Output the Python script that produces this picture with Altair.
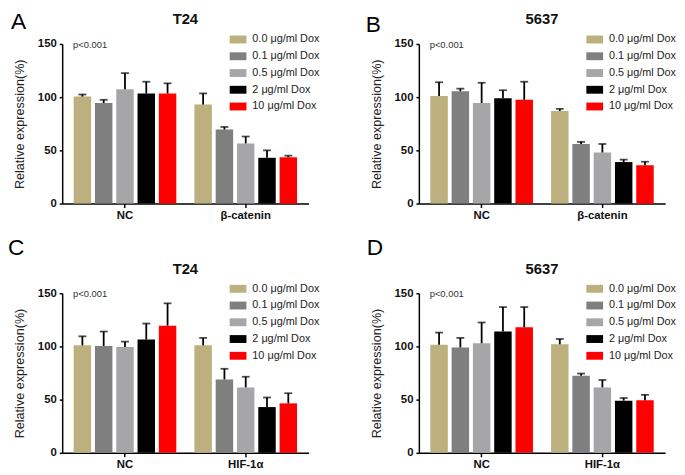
import altair as alt
import pandas as pd

groups_ab = ["NC", "β-catenin"]
groups_cd = ["NC", "HIF-1α"]
doses = ["0.0 μg/ml Dox", "0.1 μg/ml Dox", "0.5 μg/ml Dox", "2 μg/ml Dox", "10 μg/ml Dox"]
colors = ["#BBB07E", "#7F7F7F", "#A6A6A8", "#000000", "#FF0000"]

# panel A: T24, beta-catenin
a_nc = [100.5, 94.5, 107.5, 103.5, 103.5]
a_nc_err = [2, 3, 15, 11, 9.5]
a_g = [93, 69.5, 56.5, 43, 43.5]
a_g_err = [10.5, 2.5, 6.5, 7, 1.5]

# panel B: 5637, beta-catenin
b_nc = [101, 105.5, 94.5, 99, 97.5]
b_nc_err = [13, 2.5, 19, 7.5, 17]
b_g = [87, 56, 48, 39, 36]
b_g_err = [2, 2, 8, 2.3, 3.3]

# panel C: T24, HIF-1a
c_nc = [101, 100.5, 99.5, 106.5, 119.5]
c_nc_err = [8.5, 13.5, 5, 15, 21]
c_g = [101, 69, 61.5, 43, 46.5]
c_g_err = [7, 10, 10, 9, 9.5]

# panel D: 5637, HIF-1a
d_nc = [101.5, 99, 103, 114, 118]
d_nc_err = [11.5, 9, 19.5, 23, 19]
d_g = [102, 72.5, 61.5, 49, 49.5]
d_g_err = [5, 2, 7, 2.5, 5]

FONT = "Liberation Sans"


def panel(letter, title, groups, nc, nc_err, g, g_err, lx, ly):
    rows = []
    for grp, vals, errs in [(groups[0], nc, nc_err), (groups[1], g, g_err)]:
        for d, v, e in zip(doses, vals, errs):
            rows.append({"group": grp, "dose": d, "value": v, "top": v + e})
    df = pd.DataFrame(rows)
    base = alt.Chart(df)
    x = alt.X("group:N", sort=groups, title=None,
              scale=alt.Scale(paddingInner=0.15, paddingOuter=0.095),
              axis=alt.Axis(labelAngle=0, labelFontWeight="bold", labelFontSize=11.5,
                            labelColor="#111", tickSize=4, tickWidth=1.5, tickColor="#000",
                            domainColor="#000", domainWidth=1.5, labelPadding=2))
    xo = alt.XOffset("dose:N", sort=doses, scale=alt.Scale(paddingInner=0.18, paddingOuter=0))
    y = alt.Y("value:Q", scale=alt.Scale(domain=[0, 150], nice=False),
              title="Relative expression(%)",
              axis=alt.Axis(values=[0, 50, 100, 150], grid=False, labelFontWeight="bold",
                            labelFontSize=11.5, labelColor="#111", tickSize=3, tickWidth=1.5,
                            tickColor="#000", domainColor="#000", domainWidth=1.5,
                            labelPadding=3, titleFontSize=12.8, titleFontWeight="normal",
                            titleColor="#222", titlePadding=11))
    bars = base.mark_bar().encode(
        x=x, xOffset=xo, y=y,
        color=alt.Color("dose:N", sort=doses,
                        scale=alt.Scale(domain=doses, range=colors),
                        legend=alt.Legend(title=None, orient="none", legendX=170, legendY=-13,
                                          symbolType="M-1,-0.47L1,-0.47L1,0.47L-1,0.47Z",
                                          symbolSize=289, symbolStrokeWidth=0,
                                          symbolOpacity=1, labelFontSize=11,
                                          labelColor="#222", labelOffset=6, rowPadding=3,
                                          labelFont=FONT)),
    )
    err = base.mark_rule(color="#000", strokeWidth=1.8).encode(
        x=alt.X("group:N", sort=groups), xOffset=alt.XOffset("dose:N", sort=doses),
        y="value:Q", y2="top:Q")
    cap = base.mark_tick(color="#000", thickness=1.8, size=8, orient="horizontal").encode(
        x=alt.X("group:N", sort=groups), xOffset=alt.XOffset("dose:N", sort=doses),
        y="top:Q")
    ptxt = alt.Chart(pd.DataFrame({"t": ["p<0.001"]})).mark_text(
        align="left", baseline="middle", fontSize=9.5, color="#333", font=FONT
    ).encode(x=alt.value(11), y=alt.value(1), text="t:N")
    ltxt = alt.Chart(pd.DataFrame({"t": [letter]})).mark_text(
        align="left", baseline="top", fontSize=23, color="#000", font=FONT
    ).encode(x=alt.value(lx), y=alt.value(ly), text="t:N")
    ttxt = alt.Chart(pd.DataFrame({"t": [title]})).mark_text(
        align="center", baseline="alphabetic", fontSize=15, fontWeight="bold",
        color="#111", font=FONT
    ).encode(x=alt.value(125), y=alt.value(-20), text="t:N")
    return alt.layer(bars, err, cap, ptxt, ltxt, ttxt).properties(width=250, height=162)


pA = panel("A", "T24", groups_ab, a_nc, a_nc_err, a_g, a_g_err, -52, -33)
pB = panel("B", "5637", groups_ab, b_nc, b_nc_err, b_g, b_g_err, -54, -30)
pC = panel("C", "T24", groups_cd, c_nc, c_nc_err, c_g, c_g_err, -55, -57)
pD = panel("D", "5637", groups_cd, d_nc, d_nc_err, d_g, d_g_err, -53, -57)

chart = alt.concat(pA, pB, pC, pD, columns=2, spacing={"row": 91, "column": 112},
                   bounds="flush").resolve_legend(color="independent").properties(
    padding=0
).configure(font=FONT).configure_view(stroke=None)

chart.save("out.html", embed_options={"renderer": "svg", "actions": False})
